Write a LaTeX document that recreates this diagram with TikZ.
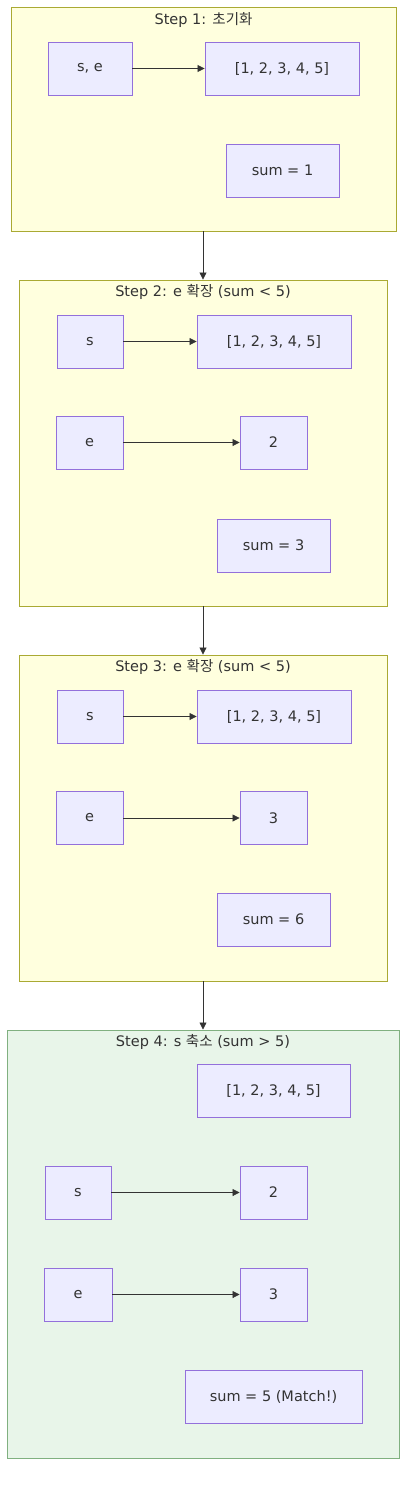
\documentclass[tikz,border=0pt]{standalone}
\usepackage{fontspec}
\setmainfont{DejaVu Sans}
\newfontfamily\krfont{Noto Sans CJK KR}
\usetikzlibrary{arrows.meta}
\definecolor{nodefill}{HTML}{ECECFF}
\definecolor{nodeline}{HTML}{9370DB}
\definecolor{ylwfill}{HTML}{FFFFDE}
\definecolor{ylwline}{HTML}{AAAA33}
\definecolor{grnfill}{HTML}{E8F5E9}
\definecolor{grnline}{HTML}{80B080}
\definecolor{edge}{HTML}{333333}
\tikzset{
  box/.style={draw=nodeline, fill=nodefill, line width=0.9pt, inner sep=0pt, minimum height=53pt, text=edge, font=\fontsize{14.5}{16}\selectfont},
  ycluster/.style={draw=ylwline, fill=ylwfill, line width=0.9pt, inner sep=0pt},
  gcluster/.style={draw=grnline, fill=grnfill, line width=1pt, inner sep=0pt},
  ctitle/.style={inner sep=0pt, text=edge, font=\fontsize{14.5}{16}\selectfont},
  link/.style={draw=edge, line width=0.8pt, -{Triangle[length=7pt,width=7pt]}},
}
\begin{document}
\begin{tikzpicture}[x=1pt,y=-1pt]
\useasboundingbox (0,0) rectangle (415,1494);
% clusters
\node[ycluster, minimum width=385pt, minimum height=224pt] (c1) at (203.5,119) {};
\node[ctitle] (t1) at (203.5,20) {Step 1: {\krfont 초기화}};
\node[ycluster, minimum width=368pt, minimum height=326pt] (c2) at (203,443) {};
\node[ctitle] (t2) at (203,292) {Step 2: e {\krfont 확장} (sum < 5)};
\node[ycluster, minimum width=368pt, minimum height=326pt] (c3) at (203,818) {};
\node[ctitle] (t3) at (203,667) {Step 3: e {\krfont 확장} (sum < 5)};
\node[gcluster, minimum width=392pt, minimum height=428pt] (c4) at (203,1244) {};
\node[ctitle] (t4) at (203,1042) {Step 4: s {\krfont 축소} (sum > 5)};
% step 1
\node[box, minimum width=84pt] (se1) at (90,68.5) {s, e};
\node[box, minimum width=154pt] (arr1) at (282,68.5) {[1, 2, 3, 4, 5]};
\node[box, minimum width=113pt] (sum1) at (282.5,170.5) {sum = 1};
% step 2
\node[box, minimum width=66pt] (s2) at (90,341.5) {s};
\node[box, minimum width=154pt] (arr2) at (274,341.5) {[1, 2, 3, 4, 5]};
\node[box, minimum width=67pt] (e2) at (89.5,442.5) {e};
\node[box, minimum width=67pt] (v2) at (273.5,442.5) {2};
\node[box, minimum width=113pt] (sum2) at (273.5,545.5) {sum = 3};
% step 3
\node[box, minimum width=66pt] (s3) at (90,716.5) {s};
\node[box, minimum width=154pt] (arr3) at (274,716.5) {[1, 2, 3, 4, 5]};
\node[box, minimum width=67pt] (e3) at (89.5,818) {e};
\node[box, minimum width=67pt] (v3) at (273.5,818) {3};
\node[box, minimum width=113pt] (sum3) at (273.5,919.5) {sum = 6};
% step 4
\node[box, minimum width=153pt] (arr4) at (273.5,1090.5) {[1, 2, 3, 4, 5]};
\node[box, minimum width=66pt] (s4) at (78,1192.5) {s};
\node[box, minimum width=67pt] (v4a) at (273.5,1192.5) {2};
\node[box, minimum width=68pt] (e4) at (78,1294.5) {e};
\node[box, minimum width=67pt] (v4b) at (273.5,1294.5) {3};
\node[box, minimum width=177pt] (sum4) at (273.5,1396.5) {sum = 5 (Match!)};
% connectors
\draw[link] (se1) -- (arr1);
\draw[link] (s2) -- (arr2);
\draw[link] (e2) -- (v2);
\draw[link] (s3) -- (arr3);
\draw[link] (e3) -- (v3);
\draw[link] (s4) -- (v4a);
\draw[link] (e4) -- (v4b);
\draw[link] (c1.south -| c2.north) -- (c2.north);
\draw[link] (c2.south) -- (c3.north);
\draw[link] (c3.south) -- (c4.north);
\end{tikzpicture}
\end{document}
